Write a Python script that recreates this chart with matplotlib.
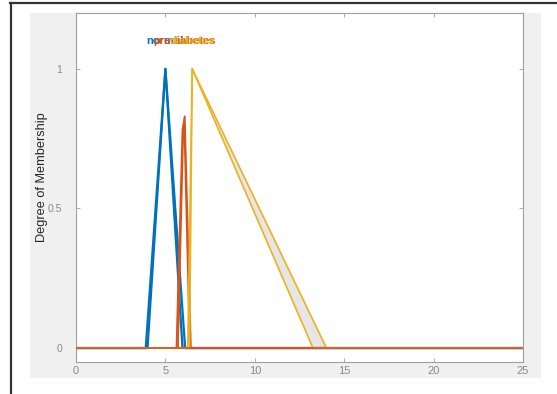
import matplotlib
matplotlib.use("Agg")
import matplotlib.pyplot as plt
from matplotlib.patches import Rectangle
from matplotlib.lines import Line2D
import numpy as np

plt.rcParams['font.family'] = ['Liberation Sans', 'DejaVu Sans']

# Interval type-2 membership functions: upper and lower breakpoints
labels = ["normal", "prediabetes", "diabetes"]
colors = ["#0072BD", "#D95319", "#EDB120"]

normal_upper_x = [3.9, 5.0, 6.1]
normal_upper_y = [0.0, 1.0, 0.0]
normal_lower_x = [4.0, 5.0, 5.95]
normal_lower_y = [0.0, 1.0, 0.0]

pre_upper_x = [5.62, 5.95, 6.08, 6.42]
pre_upper_y = [0.0, 0.78, 0.83, 0.0]
pre_lower_x = [5.7, 5.98, 6.06, 6.36]
pre_lower_y = [0.0, 0.75, 0.80, 0.0]

dia_upper_x = [6.25, 6.5, 14.0]
dia_upper_y = [0.0, 1.0, 0.0]
dia_lower_x = [6.35, 6.5, 13.25]
dia_lower_y = [0.0, 1.0, 0.0]

label_x = [5.0, 6.08, 6.5]
label_y = 1.1

x_range = [0, 25]
x_ticks = [0, 5, 10, 15, 20, 25]
y_ticks = [0, 0.5, 1]
y_tick_labels = ["0", "0.5", "1"]

grid = np.linspace(x_range[0], x_range[1], 5001)


def curve(xs, ys):
    return np.interp(grid, xs, ys, left=0.0, right=0.0)


sets = [
    (normal_upper_x, normal_upper_y, normal_lower_x, normal_lower_y),
    (pre_upper_x, pre_upper_y, pre_lower_x, pre_lower_y),
    (dia_upper_x, dia_upper_y, dia_lower_x, dia_lower_y),
]

fig = plt.figure(figsize=(5.57, 3.94), dpi=100)
fig.patch.set_facecolor("white")

# panel background behind the axes
fig.add_artist(Rectangle((30 / 557, 1 - 378 / 394), 511 / 557, 365 / 394,
                         transform=fig.transFigure, facecolor="#f0f0f0",
                         edgecolor="none", zorder=0))
# window frame lines
fig.add_artist(Line2D([10 / 557, 1.0], [1 - 2.5 / 394, 1 - 2.5 / 394],
                      transform=fig.transFigure, color="#333333", lw=1.6))
fig.add_artist(Line2D([11 / 557, 11 / 557], [0.0, 1 - 2.5 / 394],
                      transform=fig.transFigure, color="#333333", lw=1.6))

ax = fig.add_axes([76 / 557, 1 - 362 / 394, 447 / 557, 349 / 394])
ax.set_facecolor("white")

widths = [1.6, 1.3, 1.2]
for (ux, uy, lx, ly), c, lw in zip(sets, colors, widths):
    upper = curve(ux, uy)
    lower = curve(lx, ly)
    ax.fill_between(grid, lower, upper, color="#e6e6e6", lw=0, zorder=1)
    ax.plot(grid, upper, color=c, lw=lw, zorder=2)
    ax.plot(grid, lower, color=c, lw=lw, zorder=2)

# baseline drawn along the full universe
ax.plot(x_range, [0, 0], color=colors[1], lw=1.2, zorder=3)

for name, lx, c in zip(labels, label_x, colors):
    ax.text(lx, label_y, name, color=c, ha="center", va="center",
            fontsize=8, fontweight="bold", zorder=4)

ax.set_xlim(x_range)
ax.set_ylim(-0.05, 1.2)
ax.set_xticks(x_ticks)
ax.set_yticks(y_ticks)
ax.set_yticklabels(y_tick_labels)
ax.tick_params(direction="in", length=3, width=0.6, colors="#a0a0a0",
               labelcolor="#8a8a8a", labelsize=8, top=True, right=True)
ax.tick_params(axis="x", pad=3)
ax.tick_params(axis="y", pad=10, labelsize=7.5)
for s in ax.spines.values():
    s.set_color("#a0a0a0")
    s.set_linewidth(0.8)

ax.set_ylabel("Degree of Membership", fontsize=9.2, color="#262626")
ax.yaxis.set_label_coords(-0.062, 0.53)

fig.savefig("out.png", dpi=100)
